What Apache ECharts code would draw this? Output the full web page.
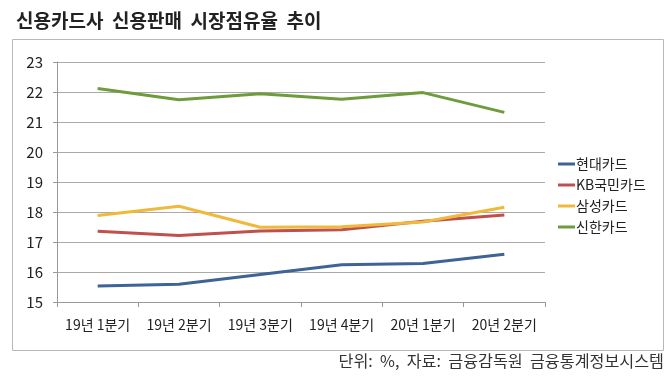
<!DOCTYPE html>
<html>
<head>
<meta charset="utf-8">
<script src="https://cdn.jsdelivr.net/npm/echarts@6/dist/echarts.min.js"></script>
<style>
  html, body { margin: 0; padding: 0; background: #fff; }
  #chart { width: 670px; height: 377px; }
</style>
</head>
<body>
<div id="chart"></div>
<script>
const quarters = ['19년 1분기', '19년 2분기', '19년 3분기', '19년 4분기', '20년 1분기', '20년 2분기'];
const hyundai = [15.53, 15.59, 15.92, 16.24, 16.28, 16.59];
const kbKookmin = [17.36, 17.22, 17.37, 17.41, 17.69, 17.90];
const samsung = [17.88, 18.19, 17.49, 17.51, 17.67, 18.16];
const shinhan = [22.12, 21.74, 21.94, 21.76, 21.98, 21.32];
const yTicks = [15, 23, 1];

const font = '"Noto Sans CJK KR", "Noto Sans", sans-serif';
const names = ['현대카드', 'KB국민카드', '삼성카드', '신한카드'];
const colors = ['#3e6396', '#c0504d', '#f0b93c', '#6e9c3d'];
const values = [hyundai, kbKookmin, samsung, shinhan];

const chart = echarts.init(document.getElementById('chart'));
chart.setOption({
  backgroundColor: '#fff',
  textStyle: { fontFamily: font },
  title: {
    text: '신용카드사  신용판매  시장점유율  추이',
    left: 11, top: 6,
    textStyle: { fontFamily: font, fontSize: 19, fontWeight: 'bold', color: '#222' }
  },
  graphic: [
    {
      type: 'rect',
      shape: { x: 12.5, y: 39.5, width: 651, height: 311 },
      style: { fill: 'none', stroke: '#b8b8b8', lineWidth: 1 },
      silent: true
    },
    {
      type: 'text',
      right: 6, top: 353,
      style: { text: '단위:  %,  자료:  금융감독원  금융통계정보시스템', fontFamily: font, fontSize: 16.2, fill: '#333' }
    }
  ],
  legend: {
    orient: 'vertical',
    left: 553, top: 152,
    itemGap: 7,
    itemWidth: 17, itemHeight: 3,
    icon: 'rect',
    data: names,
    textStyle: { fontFamily: font, fontSize: 14, color: '#222', padding: [0, 0, 0, -4] }
  },
  grid: { left: 57, right: 125, top: 62, bottom: 75 },
  xAxis: {
    type: 'category',
    data: quarters,
    boundaryGap: true,
    axisLine: { lineStyle: { color: '#999' } },
    axisTick: { show: true, length: 5, lineStyle: { color: '#999' } },
    axisLabel: { fontFamily: font, fontSize: 14, color: '#222', margin: 16, interval: 0 }
  },
  yAxis: {
    type: 'value',
    min: yTicks[0], max: yTicks[1], interval: yTicks[2],
    axisLine: { show: true, lineStyle: { color: '#999' } },
    axisTick: { show: true, length: 4, lineStyle: { color: '#999' } },
    axisLabel: { fontFamily: font, fontSize: 15, color: '#222', margin: 14 },
    splitLine: { lineStyle: { color: '#aaa' } }
  },
  series: names.map((n, i) => ({
    name: n,
    type: 'line',
    data: values[i],
    symbol: 'none',
    color: colors[i],
    lineStyle: { width: 3, color: colors[i] }
  }))
});
</script>
</body>
</html>
